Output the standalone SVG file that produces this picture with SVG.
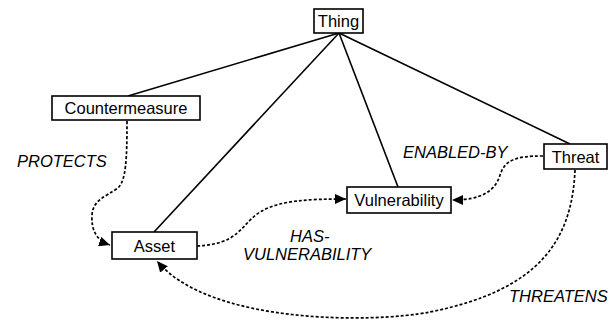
<svg xmlns="http://www.w3.org/2000/svg" width="616" height="324" viewBox="0 0 616 324">
<style>
.box{fill:#fff;stroke:#000;stroke-width:1.6}
.nt{font-family:"Liberation Sans",Arial,sans-serif;font-size:16.5px;fill:#000;text-anchor:middle}
.lbl{font-family:"Liberation Sans",Arial,sans-serif;font-size:16.5px;font-style:italic;fill:#000}
.solid{fill:none;stroke:#000;stroke-width:1.6}
.dot{fill:none;stroke:#000;stroke-width:1.7;stroke-dasharray:3 2}
</style>
<defs>
<marker id="arr" markerWidth="12" markerHeight="10" refX="11" refY="5" orient="auto" markerUnits="userSpaceOnUse">
<path d="M0,0 L11,5 L0,10 Z" fill="#000"/>
</marker>
</defs>
<rect width="616" height="324" fill="#fff"/>
<g id="connectors">
<line class="solid" x1="339" y1="33" x2="128" y2="96"/>
<line class="solid" x1="339" y1="33" x2="154" y2="232"/>
<line class="solid" x1="339" y1="33" x2="398" y2="187"/>
<line class="solid" x1="339" y1="33" x2="570" y2="144"/>
<path class="dot" d="M127,121 C127,160 126,180 118,188 C105,197 93,200 92,215 C91,232 98,241 110,245" marker-end="url(#arr)"/>
<path class="dot" d="M197,246 C240,244 240,225 260,212 C280,200 310,199 346,199" marker-end="url(#arr)"/>
<path class="dot" d="M543,156 C515,156 505,160 500,175 C495,192 480,200 452,200" marker-end="url(#arr)"/>
<path class="dot" d="M575,170 C572,240 540,290 430,312 C375,323 210,325 157,261" marker-end="url(#arr)"/>
<text class="lbl" x="17" y="167">PROTECTS</text>
<text class="lbl" x="403" y="158">ENABLED-BY</text>
<text class="lbl" x="290" y="242">HAS-</text>
<text class="lbl" x="243" y="260">VULNERABILITY</text>
<text class="lbl" x="509" y="302">THREATENS</text>
</g>
<g id="thing"><rect class="box" x="314" y="9" width="49" height="24"/><text class="nt" x="338.5" y="27">Thing</text></g>
<g id="countermeasure"><rect class="box" x="52" y="96" width="148" height="24"/><text class="nt" x="126" y="113.5">Countermeasure</text></g>
<g id="threat"><rect class="box" x="544" y="144" width="63" height="25"/><text class="nt" x="575.5" y="162.5">Threat</text></g>
<g id="vulnerability"><rect class="box" x="347" y="187" width="104" height="26"/><text class="nt" x="399" y="205.5">Vulnerability</text></g>
<g id="asset"><rect class="box" x="112" y="232" width="85" height="27"/><text class="nt" x="154.5" y="251.5">Asset</text></g>
</svg>
